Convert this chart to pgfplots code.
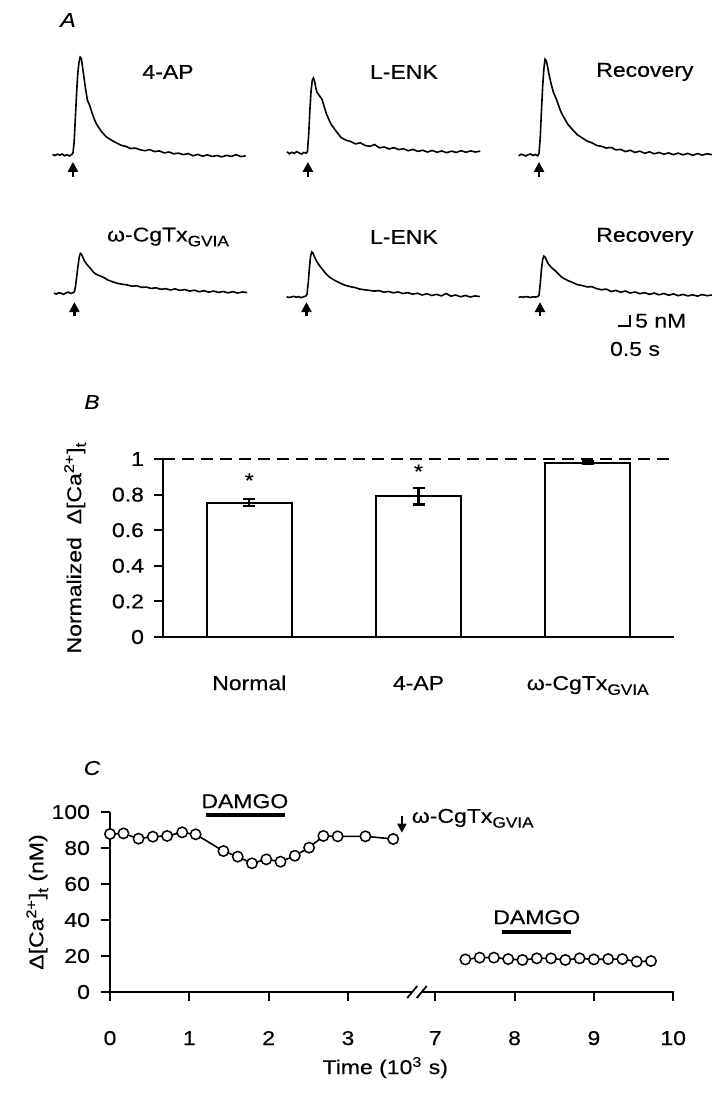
\documentclass[border=0pt]{standalone}
\usepackage{fontspec}
\setmainfont{Liberation Sans}[FakeStretch=1.15, FakeBold=0.35]
\usepackage{pgfplots}
\pgfplotsset{compat=1.18}
\usepackage{pgfplotstable}
\usetikzlibrary{arrows.meta}

\newcommand{\fs}{\fontsize{10}{12}\selectfont}
\newcommand{\sub}[1]{\raisebox{-0.45ex}{\fontsize{7.5}{8}\selectfont #1}}
\newcommand{\ctx}{ω-CgTx\sub{GVIA}}

% panel A: Delta[Ca] (nM) against time from stimulus (s)
\pgfplotstableread{
t a1 a2 a3 b1 b2 b3
-0.85 0.3 0.5 -0.3 0.2 0.1 -0.2
-0.75 -0.2 -0.4 0.4 -0.3 -0.2 0.1
-0.65 0.4 0.3 0.1 0.4 0.0 -0.1
-0.55 0.0 -0.2 -0.4 0.1 0.3 0.2
-0.45 0.5 0.6 0.2 -0.4 -0.1 0.0
-0.35 -0.3 0.0 0.5 0.3 0.2 -0.2
-0.25 0.2 -0.5 -0.2 0.6 -0.3 0.1
-0.15 -0.4 0.2 0.3 0.0 0.1 0.0
-0.05 0.3 -0.1 -0.3 0.4 0.4 0.2
0.00 1.0 0.6 0.8 0.8 1.2 0.9
0.05 6 8 8 3.5 6 6
0.10 17 19 20 8 13 12.5
0.15 28 28 31 12.5 18.5 17
0.20 37 33 39 16.5 20.5 18.6
0.25 42 34 43.6 18.2 20 18.2
0.30 44.5 32.5 43 17.8 18.6 17.0
0.35 44 29.5 40.5 16.5 17.4 15.8
0.40 40 27.5 37.5 15.2 16.3 14.9
0.50 32 26 32.5 13.5 14.6 13.6
0.60 25 24.5 28.5 12.2 13.2 12.6
0.70 22.5 21 26 11.0 11.8 11.7
0.80 19 17.5 23 9.6 10.5 10.6
0.90 16 15 20 8.8 9.4 9.5
1.00 13.8 12.8 17.8 8.3 8.6 8.6
1.2 10.5 9.8 14 7.4 7.3 7.5
1.4 8.2 7.0 11.5 6.1 6.2 6.6
1.6 6.8 5.8 9.2 5.3 5.3 5.6
1.8 5.6 5.2 7.8 4.6 4.7 5.2
2.0 4.5 4.1 6.4 4.2 4.3 4.6
2.2 4.0 4.6 5.6 3.9 3.6 4.7
2.4 3.0 3.4 4.4 3.3 3.3 3.8
2.6 3.2 3.0 4.0 3.5 3.0 3.3
2.8 2.4 3.8 3.2 2.8 2.7 3.6
3.0 2.0 2.3 3.5 2.9 2.9 2.5
3.2 2.5 2.7 2.4 2.3 2.2 3.0
3.4 1.6 1.8 2.6 2.6 2.5 2.2
3.6 1.9 2.4 1.6 1.9 1.9 2.7
3.8 1.0 1.5 2.2 2.2 2.3 1.8
4.0 1.4 1.9 1.2 1.6 1.6 2.3
4.2 0.6 1.0 1.8 2.1 2.0 1.5
4.4 0.9 1.6 0.8 1.4 1.3 2.0
4.6 0.2 0.7 1.5 1.8 1.7 1.2
4.8 0.7 1.2 0.6 1.1 0.9 1.8
5.0 -0.3 0.4 1.2 1.5 1.5 1.0
5.2 0.3 1.1 0.4 0.8 0.7 1.6
5.4 -0.5 0.3 1.0 1.3 1.2 0.8
5.6 0.1 0.9 0.2 0.6 0.5 1.4
5.8 -0.6 0.1 0.9 1.1 1.6 0.6
6.0 -0.2 0.8 0.1 0.5 0.4 1.2
6.2 -0.8 0.2 0.8 0.9 0.9 0.5
6.4 -0.1 1.0 -0.1 0.3 0.1 1.0
6.6 -0.6 0.3 0.7 0.8 0.7 0.4
6.8 0.2 0.9 0.0 0.2 0.0 1.1
7.0 -0.7 0.4 0.6 0.7 0.5 0.6
7.2 -0.3 0.8 0.2 0.4 0.2 0.9
}\traces

% panel B
\pgfplotstableread{
x y err
1 0.755 0.02
2 0.79 0.045
3 0.978 0.008
}\bars

% panel C (t in 10^3 s, nM)
\pgfplotstableread{
t c
0.00 87.8
0.17 88.1
0.36 85.2
0.54 86.3
0.72 86.7
0.91 88.7
1.08 87.6
1.43 78.3
1.61 75.2
1.79 71.5
1.97 73.7
2.15 72.4
2.33 75.7
2.51 80.2
2.69 86.7
2.87 86.5
3.22 86.5
3.57 85.0
}\before
\pgfplotstableread{
t c
7.38 18.1
7.56 19.1
7.74 19.1
7.92 18.3
8.10 17.8
8.28 18.7
8.46 18.7
8.64 17.8
8.82 18.7
9.00 18.1
9.18 18.3
9.36 18.3
9.54 16.9
9.72 17.2
}\after

\pgfplotsset{
  every axis/.append style={font=\fs},
  tick label style={font=\fs, /pgf/number format/assume math mode=true},
  trace/.style={black, line width=0.8pt, no marks},
  circ/.style={black, line width=0.8pt, mark=*, mark size=2.6pt,
    mark options={fill=white, draw=black, line width=0.75pt}},
}
\tikzset{stim/.style={line width=1.2pt, -{Triangle[width=5pt,length=5pt]}}}

\begin{document}
\begin{tikzpicture}[font=\fs]

% ---------- A ----------
\begin{axis}[at={(0pt,-165pt)}, anchor=south west, scale only axis,
  width=358pt, height=145pt, xmin=0, xmax=29.8333, ymin=0, ymax=131.818,
  hide axis, clip=false]
\addplot[trace] table[x expr=\thisrow{t}+3.04, y expr=\thisrow{a1}+79.5]{\traces};
\addplot[trace] table[x expr=\thisrow{t}+12.81, y expr=\thisrow{a2}+80.5]{\traces};
\addplot[trace] table[x expr=\thisrow{t}+22.46, y expr=\thisrow{a3}+79.5]{\traces};
\addplot[trace] table[x expr=\thisrow{t}+3.10, y expr=\thisrow{b1}+16.6]{\traces};
\addplot[trace] table[x expr=\thisrow{t}+12.79, y expr=\thisrow{b2}+15.0]{\traces};
\addplot[trace] table[x expr=\thisrow{t}+22.46, y expr=\thisrow{b3}+15.0]{\traces};
\draw[stim] (axis cs:3.04,69.5) -- (axis cs:3.04,76.4);
\draw[stim] (axis cs:12.83,69.5) -- (axis cs:12.83,76.4);
\draw[stim] (axis cs:22.46,69.5) -- (axis cs:22.46,76.4);
\draw[stim] (axis cs:3.10,6.2) -- (axis cs:3.10,12.7);
\draw[stim] (axis cs:12.77,6.2) -- (axis cs:12.77,12.7);
\draw[stim] (axis cs:22.5,6.2) -- (axis cs:22.5,12.7);
\node at (axis cs:7.0,117.3) {4-AP};
\node at (axis cs:16.83,117.3) {L-ENK};
\node at (axis cs:26.87,117.3) {Recovery};
\node at (axis cs:7.0,42.3) {\ctx};
\node at (axis cs:16.83,42.3) {L-ENK};
\node at (axis cs:26.87,42.3) {Recovery};
% scale bar
\draw[line width=0.9pt] (axis cs:25.75,1.82) -- (axis cs:26.25,1.82) -- (axis cs:26.25,6.82);
\node[anchor=west, inner sep=0pt] at (axis cs:26.45,4.2) {5 nM};
\node at (axis cs:26.46,-8.6) {0.5 s};
\end{axis}
\node[font=\fs\itshape] at (34pt,-10pt) {A};

% ---------- B ----------
\begin{axis}[at={(81.5pt,-318.5pt)}, anchor=south west, scale only axis,
  width=255.5pt, height=89pt, xmin=0.49, xmax=3.51, ymin=0, ymax=1,
  axis lines*=left, axis line style={line width=1.1pt},
  tick align=outside, major tick length=4.5pt,
  y tick style={line width=1pt, black}, x tick style={draw=none},
  ytick={0,0.2,0.4,0.6,0.8,1},
  yticklabel style={xshift=-1.5pt},
  xtick={1,2,3}, xticklabels={Normal,4-AP,\ctx},
  xticklabel style={anchor=base, yshift=-22pt},
  ylabel={Normalized\ \ Δ[Ca\textsuperscript{2+}]\sub{t}},
  ylabel style={at={(axis description cs:-0.172,0.5)}, anchor=center},
  clip=false]
\addplot[ybar, bar width=42.5pt, fill=white, draw=black, line width=1.1pt,
  error bars/.cd, y dir=both, y explicit,
  error bar style={line width=1.1pt},
  error mark options={rotate=90, mark size=3pt, line width=1.1pt}]
  table[x=x, y=y, y error=err]{\bars};
\draw[line width=1.2pt, dash pattern=on 6pt off 3.5pt] (axis cs:0.49,1) -- (axis cs:3.51,1);
\node at (axis cs:1,0.88) {*};
\node at (axis cs:2,0.93) {*};
\end{axis}
\node[font=\fs\itshape] at (46pt,-201pt) {B};

% ---------- C ----------
\begin{axis}[at={(55pt,-496pt)}, anchor=south west, scale only axis,
  width=282pt, height=90pt, xmin=0, xmax=7.11, ymin=0, ymax=100,
  axis lines*=left, axis line style={line width=1.1pt},
  x axis line style={draw=none},
  tick align=outside, major tick length=4.5pt,
  tick style={line width=1pt, black},
  ytick={0,20,40,60,80,100},
  yticklabel style={xshift=-2pt},
  xtick={0,1,2,3,4.1,5.1,6.1,7.1}, xticklabels={0,1,2,3,7,8,9,10},
  xticklabel style={anchor=base, yshift=-22pt},
  xlabel={Time (10\textsuperscript{3} s)},
  xlabel style={at={(axis description cs:0.488,-0.42)}, anchor=center},
  ylabel={Δ[Ca\textsuperscript{2+}]\sub{t} (nM)},
  ylabel style={at={(axis description cs:-0.129,0.5)}, anchor=center},
  clip=false]
\draw[line width=1.1pt] (axis cs:0,0) -- (axis cs:3.81,0);
\draw[line width=1.1pt] (axis cs:3.93,0) -- (axis cs:7.11,0);
\draw[line width=0.9pt] (axis cs:3.81,0) ++(-2.5pt,-3pt) -- ++(5pt,6pt);
\draw[line width=0.9pt] (axis cs:3.93,0) ++(-2.5pt,-3pt) -- ++(5pt,6pt);
\addplot[circ] table[x=t, y=c]{\before};
\addplot[circ] table[x expr=\thisrow{t}-2.9, y=c]{\after};
\draw[line width=2.2pt] (axis cs:1.21,98.3) -- (axis cs:2.21,98.3);
\node at (axis cs:1.7,106) {DAMGO};
\draw[line width=2.2pt] (axis cs:4.94,33.3) -- (axis cs:5.81,33.3);
\node at (axis cs:5.38,41.5) {DAMGO};
\draw[line width=1pt, -{Triangle[width=4.5pt,length=4.5pt]}] (axis cs:3.68,98) -- (axis cs:3.68,88.5);
\node[anchor=west, inner sep=0pt] at (axis cs:3.80,96.5) {\ctx};
\end{axis}
\node[font=\fs\itshape] at (46pt,-384pt) {C};

\pgfresetboundingbox
\path[use as bounding box] (0,0) rectangle (358pt,-547pt);
\end{tikzpicture}
\end{document}
